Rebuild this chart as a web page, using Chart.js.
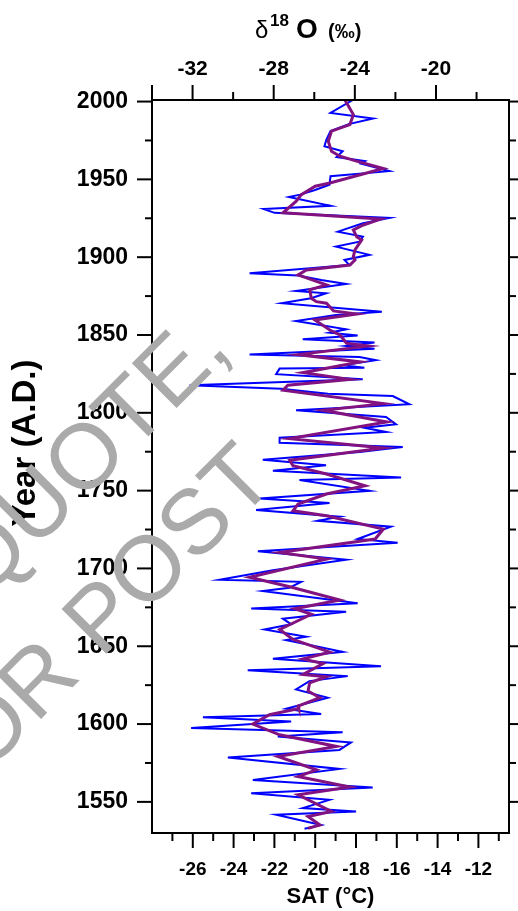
<!DOCTYPE html>
<html>
<head>
<meta charset="utf-8">
<script src="https://cdn.jsdelivr.net/npm/chart.js@4.4.1/dist/chart.umd.min.js"></script>
<style>
  html, body { margin: 0; padding: 0; background: #fff; }
</style>
</head>
<body>
<canvas id="myChart" width="518" height="911"></canvas>
<script>
// AXIS TICKS
const yearTicks = [1550, 1600, 1650, 1700, 1750, 1800, 1850, 1900, 1950, 2000];
const satTicks = [-26, -24, -22, -20, -18, -16, -14, -12];
const d18OTicks = [-32, -28, -24, -20];

// δ18O RECORD (blue, top axis)
const d18OYears = [
  2001, 1992.7, 1989.1, 1985.5, 1981, 1975.6, 1971.3, 1968.1, 1964.3, 1961.7,
  1960.1, 1955.3, 1952, 1946.6, 1943, 1940.2, 1938.7, 1933, 1931, 1928.5,
  1925.2, 1921.8, 1916.4, 1913.2, 1910, 1906.8, 1901.5, 1898.2, 1895, 1889.7,
  1888.2, 1885.4, 1882.8, 1878.3, 1876.8, 1873.6, 1870.4, 1865, 1862.9, 1859,
  1853.7, 1851.5, 1849.6, 1847.3, 1845.1, 1843, 1841.2, 1837.4, 1835.9, 1833.8,
  1830.5, 1829, 1828.4, 1824.8, 1821.5, 1817.7, 1815.5, 1812.3, 1810.8, 1805.5,
  1801.6, 1797.3, 1792.6, 1790.4, 1787.7, 1784, 1780.8, 1778, 1774.8, 1769.9,
  1766.3, 1762.8, 1758.5, 1756.8, 1749.9, 1745, 1742, 1737.5, 1733.2, 1730.6,
  1726.8, 1718.9, 1716.5, 1711, 1705.6, 1698.9, 1692.7, 1691.4, 1687.6, 1685.5,
  1677.6, 1674.3, 1672.2, 1667.7, 1664.1, 1660.8, 1656.1, 1654, 1646.4, 1641.9,
  1637.2, 1634.5, 1630.8, 1627.6, 1622.3, 1616.9, 1609.8, 1606.4, 1604.3, 1601.7,
  1597.4, 1594.8, 1592, 1588.2, 1583.4, 1578.5, 1571.2, 1564.1, 1559.3, 1555.6,
  1551.3, 1546, 1543.8, 1541.7, 1535.2, 1532.7
];
const d18OValues = [
  -24.1, -25.2, -23.1, -24.3, -25.2, -25.4, -25.5, -24.6, -24.9, -23.5,
  -23.7, -22.3, -25.2, -25.25, -26.0, -26.7, -27.25, -25.2, -28.5, -27.96,
  -22.3, -23.6, -24.84, -23.6, -23.77, -24.93, -23.28, -24.51, -24.27, -29.19,
  -26.8, -25.66, -24.43, -26.9, -25.42, -26.16, -27.6, -22.67, -24.93, -26.9,
  -24.43, -25.25, -23.86, -26.57, -23.03, -24.43, -23.03, -29.19, -23.77, -22.96,
  -24.6, -23.53, -27.71, -27.88, -23.61, -32.15, -27.63, -25.33, -22.13, -21.31,
  -26.9, -22.46, -21.97, -23.53, -22.46, -27.71, -27.71, -21.64, -23.77, -28.54,
  -25.42, -28.04, -21.72, -26.73, -23.28, -28.7, -25.25, -28.87, -24.76, -25.83,
  -22.22, -23.86, -21.89, -28.78, -24.43, -28.04, -30.67, -26.65, -27.22, -28.54,
  -23.86, -29.11, -24.43, -27.55, -27.14, -28.45, -26.4, -27.39, -24.6, -28.04,
  -22.71, -29.28, -24.35, -26.24, -26.9, -25.33, -27.39, -25.66, -31.49, -27.14,
  -32.07, -24.6, -27.8, -24.19, -24.76, -30.26, -24.76, -29.03, -23.12, -29.11,
  -25.25, -26.57, -23.94, -27.88, -25.66, -26.48
];

// SAT RECONSTRUCTION (purple, bottom axis)
const satYears = [
  2001, 1991.6, 1985.2, 1981, 1974.5, 1968, 1964.9, 1961.7, 1957, 1947.7,
  1945.6, 1940.2, 1936, 1928.5, 1924.5, 1920.7, 1917.5, 1913.2, 1911.1, 1904.7,
  1900.4, 1898.2, 1895, 1891.8, 1888.6, 1882.2, 1879, 1873.6, 1871.4, 1870.4,
  1865.5, 1863.5, 1859.7, 1853.2, 1850, 1844.7, 1843, 1837.4, 1832.7, 1825.8,
  1821.5, 1817.7, 1814.5, 1805.9, 1801.6, 1794.1, 1783.4, 1777.4, 1769.5, 1766,
  1760.7, 1753.1, 1747.8, 1741.4, 1737, 1733.9, 1725.3, 1718.9, 1710.3, 1706,
  1694.3, 1688.2, 1679.7, 1674.1, 1670.5, 1660.8, 1654.4, 1646.2, 1641.9, 1638.9,
  1631.9, 1630.4, 1626.5, 1621.2, 1616.9, 1611.5, 1610, 1606, 1600, 1593.1,
  1585.6, 1579.2, 1570.6, 1566.3, 1559.5, 1554.5, 1543.8, 1540.6, 1535.2, 1533
];
const satValues = [
  -18.54, -18.13, -18.3, -19.2, -19.36, -19.2, -18.79, -17.97, -16.66, -19.28,
  -20.0, -20.68, -20.93, -21.58, -16.8, -17.64, -18.13, -17.97, -17.72, -18.05,
  -18.13, -18.05, -18.3, -20.43, -20.84, -19.45, -20.27, -20.19, -19.94, -19.45,
  -19.1, -17.97, -20.02, -19.28, -18.79, -18.46, -17.4, -20.84, -17.8, -20.6,
  -18.3, -21.34, -21.58, -16.66, -19.61, -16.49, -21.25, -16.66, -21.25, -21.09,
  -19.45, -17.56, -19.45, -20.84, -21.09, -19.45, -16.66, -17.06, -21.74, -19.45,
  -23.22, -21.25, -18.79, -21.0, -20.19, -21.74, -21.09, -19.28, -20.6, -19.61,
  -20.6, -19.45, -20.27, -20.35, -19.77, -20.84, -20.8, -22.24, -23.06, -21.74,
  -18.96, -21.83, -19.94, -20.84, -18.3, -20.84, -19.2, -20.35, -19.77, -20.35
];

const FONT = "'Liberation Sans', Arial, sans-serif";

// frame + outward tick marks (major and minor) on all four sides
const frameTicks = {
  id: 'frameTicks',
  afterDatasetsDraw(chart) {
    const { ctx, chartArea: a, scales } = chart;
    const line = (x1, y1, x2, y2) => {
      ctx.beginPath(); ctx.moveTo(x1, y1); ctx.lineTo(x2, y2); ctx.stroke();
    };
    ctx.save();
    ctx.strokeStyle = '#000';
    ctx.lineWidth = 2;
    ctx.strokeRect(a.left, a.top, a.right - a.left, a.bottom - a.top);

    for (let v = 1550; v <= 2000; v += 25) {
      const len = v % 50 === 0 ? 15 : 7;
      const y = scales.y.getPixelForValue(v);
      line(a.left - len, y, a.left, y);
      line(a.right, y, a.right + len, y);
    }
    for (let v = -27; v <= -11; v++) {
      const len = v % 2 === 0 ? 15 : 8;
      const x = scales.x.getPixelForValue(v);
      line(x, a.bottom, x, a.bottom + len);
    }
    for (let v = -34; v <= -18; v += 2) {
      const len = (v % 4 === 0 || v === -34) ? 15 : 8;
      const x = scales.top.getPixelForValue(v);
      line(x, a.top - len, x, a.top);
    }
    ctx.restore();
  }
};

// axis titles: top one needs a superscript, left one sits off-centre
const axisTitles = {
  id: 'axisTitles',
  afterDraw(chart) {
    const { ctx } = chart;
    ctx.save();
    ctx.fillStyle = '#000';
    ctx.textBaseline = 'alphabetic';
    ctx.font = '24px ' + FONT;
    ctx.fillText('δ', 255, 38);
    ctx.font = 'bold 17px ' + FONT;
    ctx.fillText('18', 270, 26);
    ctx.font = 'bold 28px ' + FONT;
    ctx.fillText('O', 296, 38);
    ctx.font = 'bold 20px ' + FONT;
    ctx.fillText('(‰)', 328, 38);

    ctx.translate(26, 443);
    ctx.rotate(-Math.PI / 2);
    ctx.textAlign = 'center';
    ctx.textBaseline = 'middle';
    ctx.font = 'bold 33px ' + FONT;
    ctx.fillText('Year (A.D.)', 0, 0);
    ctx.restore();
  }
};

// grey watermark over the figure
const watermark = {
  id: 'watermark',
  afterDraw(chart) {
    const { ctx } = chart;
    ctx.save();
    ctx.fillStyle = '#aaaaaa';
    ctx.font = '92px ' + FONT;
    ctx.textAlign = 'right';
    ctx.translate(278, 482);
    ctx.rotate(-Math.PI / 4);
    ctx.fillText('OR POST', 0, 0);
    ctx.fillText('DO NOT CITE, QUOTE,', 60, -124);
    ctx.restore();
  }
};

const ctx = document.getElementById('myChart');

new Chart(ctx, {
  type: 'scatter',
  data: {
    datasets: [{
      label: 'SAT',
      data: satYears.map((y, i) => ({ x: satValues[i], y })),
      xAxisID: 'x',
      yAxisID: 'y',
      showLine: true,
      borderColor: '#81127f',
      borderWidth: 3,
      pointRadius: 0,
      order: 0
    }, {
      label: 'd18O',
      data: d18OYears.map((y, i) => ({ x: d18OValues[i], y })),
      xAxisID: 'top',
      yAxisID: 'y',
      showLine: true,
      borderColor: '#0000ff',
      borderWidth: 2,
      pointRadius: 0,
      order: 1
    }]
  },
  options: {
    responsive: false,
    animation: false,
    devicePixelRatio: 1,
    layout: { padding: { left: 0, right: 9, top: 0, bottom: 0 } },
    plugins: { legend: { display: false }, tooltip: { enabled: false } },
    scales: {
      y: {
        type: 'linear',
        position: 'left',
        min: 1530,
        max: 2001,
        afterBuildTicks: s => { s.ticks = yearTicks.map(v => ({ value: v })); },
        afterFit: s => { s.width = 152; },
        grid: { display: false, drawTicks: false },
        border: { display: false },
        ticks: {
          color: '#000',
          padding: 24,
          font: { family: FONT, size: 23, weight: 'bold' },
          callback: v => String(v)
        }
      },
      x: {
        type: 'linear',
        position: 'bottom',
        min: -28,
        max: -10.5,
        afterBuildTicks: s => { s.ticks = satTicks.map(v => ({ value: v })); },
        afterFit: s => { s.height = 78; },
        grid: { display: false, drawTicks: false },
        border: { display: false },
        ticks: {
          color: '#000',
          padding: 25,
          maxRotation: 0,
          font: { family: FONT, size: 19, weight: 'bold' }
        },
        title: {
          display: true,
          text: 'SAT (°C)',
          color: '#000',
          font: { family: FONT, size: 22, weight: 'bold' },
          padding: { top: 0, bottom: 1 }
        }
      },
      top: {
        type: 'linear',
        position: 'top',
        min: -34,
        max: -16.4,
        afterBuildTicks: s => { s.ticks = d18OTicks.map(v => ({ value: v })); },
        afterFit: s => { s.height = 100; },
        grid: { display: false, drawTicks: false },
        border: { display: false },
        ticks: {
          color: '#000',
          padding: 18,
          maxRotation: 0,
          font: { family: FONT, size: 21, weight: 'bold' }
        }
      }
    }
  },
  plugins: [frameTicks, axisTitles, watermark]
});
</script>
</body>
</html>
